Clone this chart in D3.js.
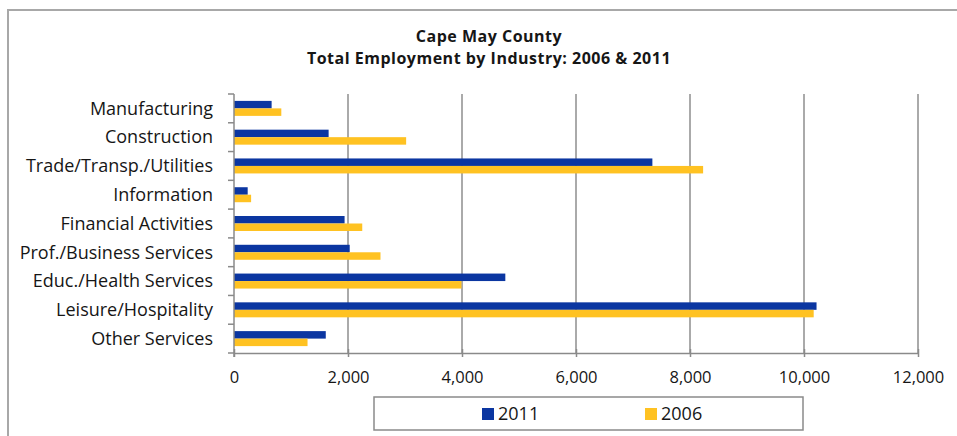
<!DOCTYPE html>
<html>
<head>
<meta charset="utf-8">
<script src="https://cdn.jsdelivr.net/npm/d3@7"></script>
<style>
  html, body { margin: 0; padding: 0; background: #fff; }
  svg { display: block; }
  text { font-family: "Open Sans", Lato, sans-serif; fill: #161616; }
</style>
</head>
<body>
<svg id="chart" width="957" height="436"></svg>
<script>
// Employment by industry, Cape May County
const industries = [
  "Manufacturing",
  "Construction",
  "Trade/Transp./Utilities",
  "Information",
  "Financial Activities",
  "Prof./Business Services",
  "Educ./Health Services",
  "Leisure/Hospitality",
  "Other Services"
];
const years = ["2011", "2006"];
const jobs2011 = [660, 1660, 7340, 240, 1940, 2030, 4760, 10220, 1610];
const jobs2006 = [830, 3020, 8230, 300, 2250, 2570, 3990, 10170, 1290];
const xTicks = [0, 2000, 4000, 6000, 8000, 10000, 12000];
const colors = { "2011": "#0b36a1", "2006": "#ffc222" };
const titleLines = ["Cape May County", "Total Employment by Industry: 2006 & 2011"];

const rows = industries.map((name, i) => ({ name, "2011": jobs2011[i], "2006": jobs2006[i] }));

const svg = d3.select("#chart");

// chart frame
svg.append("rect")
  .attr("x", 8).attr("y", 10)
  .attr("width", 980).attr("height", 460)
  .attr("fill", "#fff")
  .attr("stroke", "#a8a8a8")
  .attr("stroke-width", 2);

// title
svg.append("g").selectAll("text")
  .data(titleLines)
  .join("text")
  .attr("x", 489)
  .attr("y", (d, i) => 42 + i * 22)
  .attr("text-anchor", "middle")
  .attr("font-size", 16)
  .attr("font-weight", "bold")
  .attr("letter-spacing", "0.5px")
  .text(d => d);

const plot = { left: 234, right: 918, top: 94, bottom: 353 };

const x = d3.scaleLinear().domain([0, 12000]).range([plot.left, plot.right]);
const y0 = d3.scaleBand().domain(industries).range([plot.top, plot.bottom]).padding(0);
const y1 = d3.scaleBand().domain(years).range([0, y0.bandwidth()]).paddingInner(0).paddingOuter(0.92);

// vertical gridlines
svg.append("g").selectAll("line")
  .data(xTicks.filter(t => t > 0))
  .join("line")
  .attr("x1", d => x(d)).attr("x2", d => x(d))
  .attr("y1", plot.top).attr("y2", plot.bottom)
  .attr("stroke", "#8e8e8e")
  .attr("stroke-width", 1.5);

// bars
const groups = svg.append("g").selectAll("g")
  .data(rows)
  .join("g")
  .attr("transform", d => `translate(0,${y0(d.name)})`);

groups.selectAll("rect")
  .data(d => years.map(yr => ({ yr, value: d[yr] })))
  .join("rect")
  .attr("x", x(0))
  .attr("y", d => y1(d.yr))
  .attr("width", d => x(d.value) - x(0))
  .attr("height", y1.bandwidth())
  .attr("fill", d => colors[d.yr]);

// bottom axis
const xAxis = d3.axisBottom(x)
  .tickValues(xTicks)
  .tickFormat(d3.format(","))
  .tickSizeInner(4)
  .tickSizeOuter(0)
  .tickPadding(14);

const gx = svg.append("g")
  .attr("transform", `translate(0,${plot.bottom})`)
  .call(xAxis);
gx.select(".domain").attr("stroke", "#8a8a8a").attr("stroke-width", 1.5);
gx.selectAll(".tick line").attr("stroke", "#8a8a8a").attr("stroke-width", 1.5).attr("y1", -4);
gx.selectAll(".tick text")
  .attr("font-size", 16.5)
  .attr("font-family", "'Open Sans', Lato, sans-serif")
  .attr("font-weight", 500)
  .attr("fill", "#161616");

// left axis: tick marks sit between categories
const gy = svg.append("g");
gy.append("line")
  .attr("x1", plot.left).attr("x2", plot.left)
  .attr("y1", plot.top).attr("y2", plot.bottom + 4)
  .attr("stroke", "#8a8a8a").attr("stroke-width", 1.5);
const boundaries = industries.map(n => y0(n)).concat([plot.bottom]);
gy.selectAll("line.tk")
  .data(boundaries)
  .join("line")
  .attr("class", "tk")
  .attr("x1", plot.left - 6).attr("x2", plot.left)
  .attr("y1", d => d).attr("y2", d => d)
  .attr("stroke", "#8a8a8a").attr("stroke-width", 1.5);
gy.selectAll("text")
  .data(industries)
  .join("text")
  .attr("x", 213)
  .attr("y", d => y0(d) + y0.bandwidth() / 2)
  .attr("dy", "0.35em")
  .attr("text-anchor", "end")
  .attr("font-size", 18)
  .attr("font-weight", 500)
  .text(d => d);

// legend
const legend = svg.append("g");
legend.append("rect")
  .attr("x", 374).attr("y", 397)
  .attr("width", 429).attr("height", 33)
  .attr("fill", "#fff")
  .attr("stroke", "#8a8a8a")
  .attr("stroke-width", 1.5);
const legendX = { "2011": 482, "2006": 645 };
const items = legend.selectAll("g.item")
  .data(years)
  .join("g")
  .attr("class", "item")
  .attr("transform", d => `translate(${legendX[d]},408)`);
items.append("rect")
  .attr("width", 12).attr("height", 12)
  .attr("fill", d => colors[d]);
items.append("text")
  .attr("x", 16).attr("y", 6)
  .attr("dy", "0.35em")
  .attr("font-size", 18)
  .attr("font-weight", 500)
  .text(d => d);
</script>
</body>
</html>
